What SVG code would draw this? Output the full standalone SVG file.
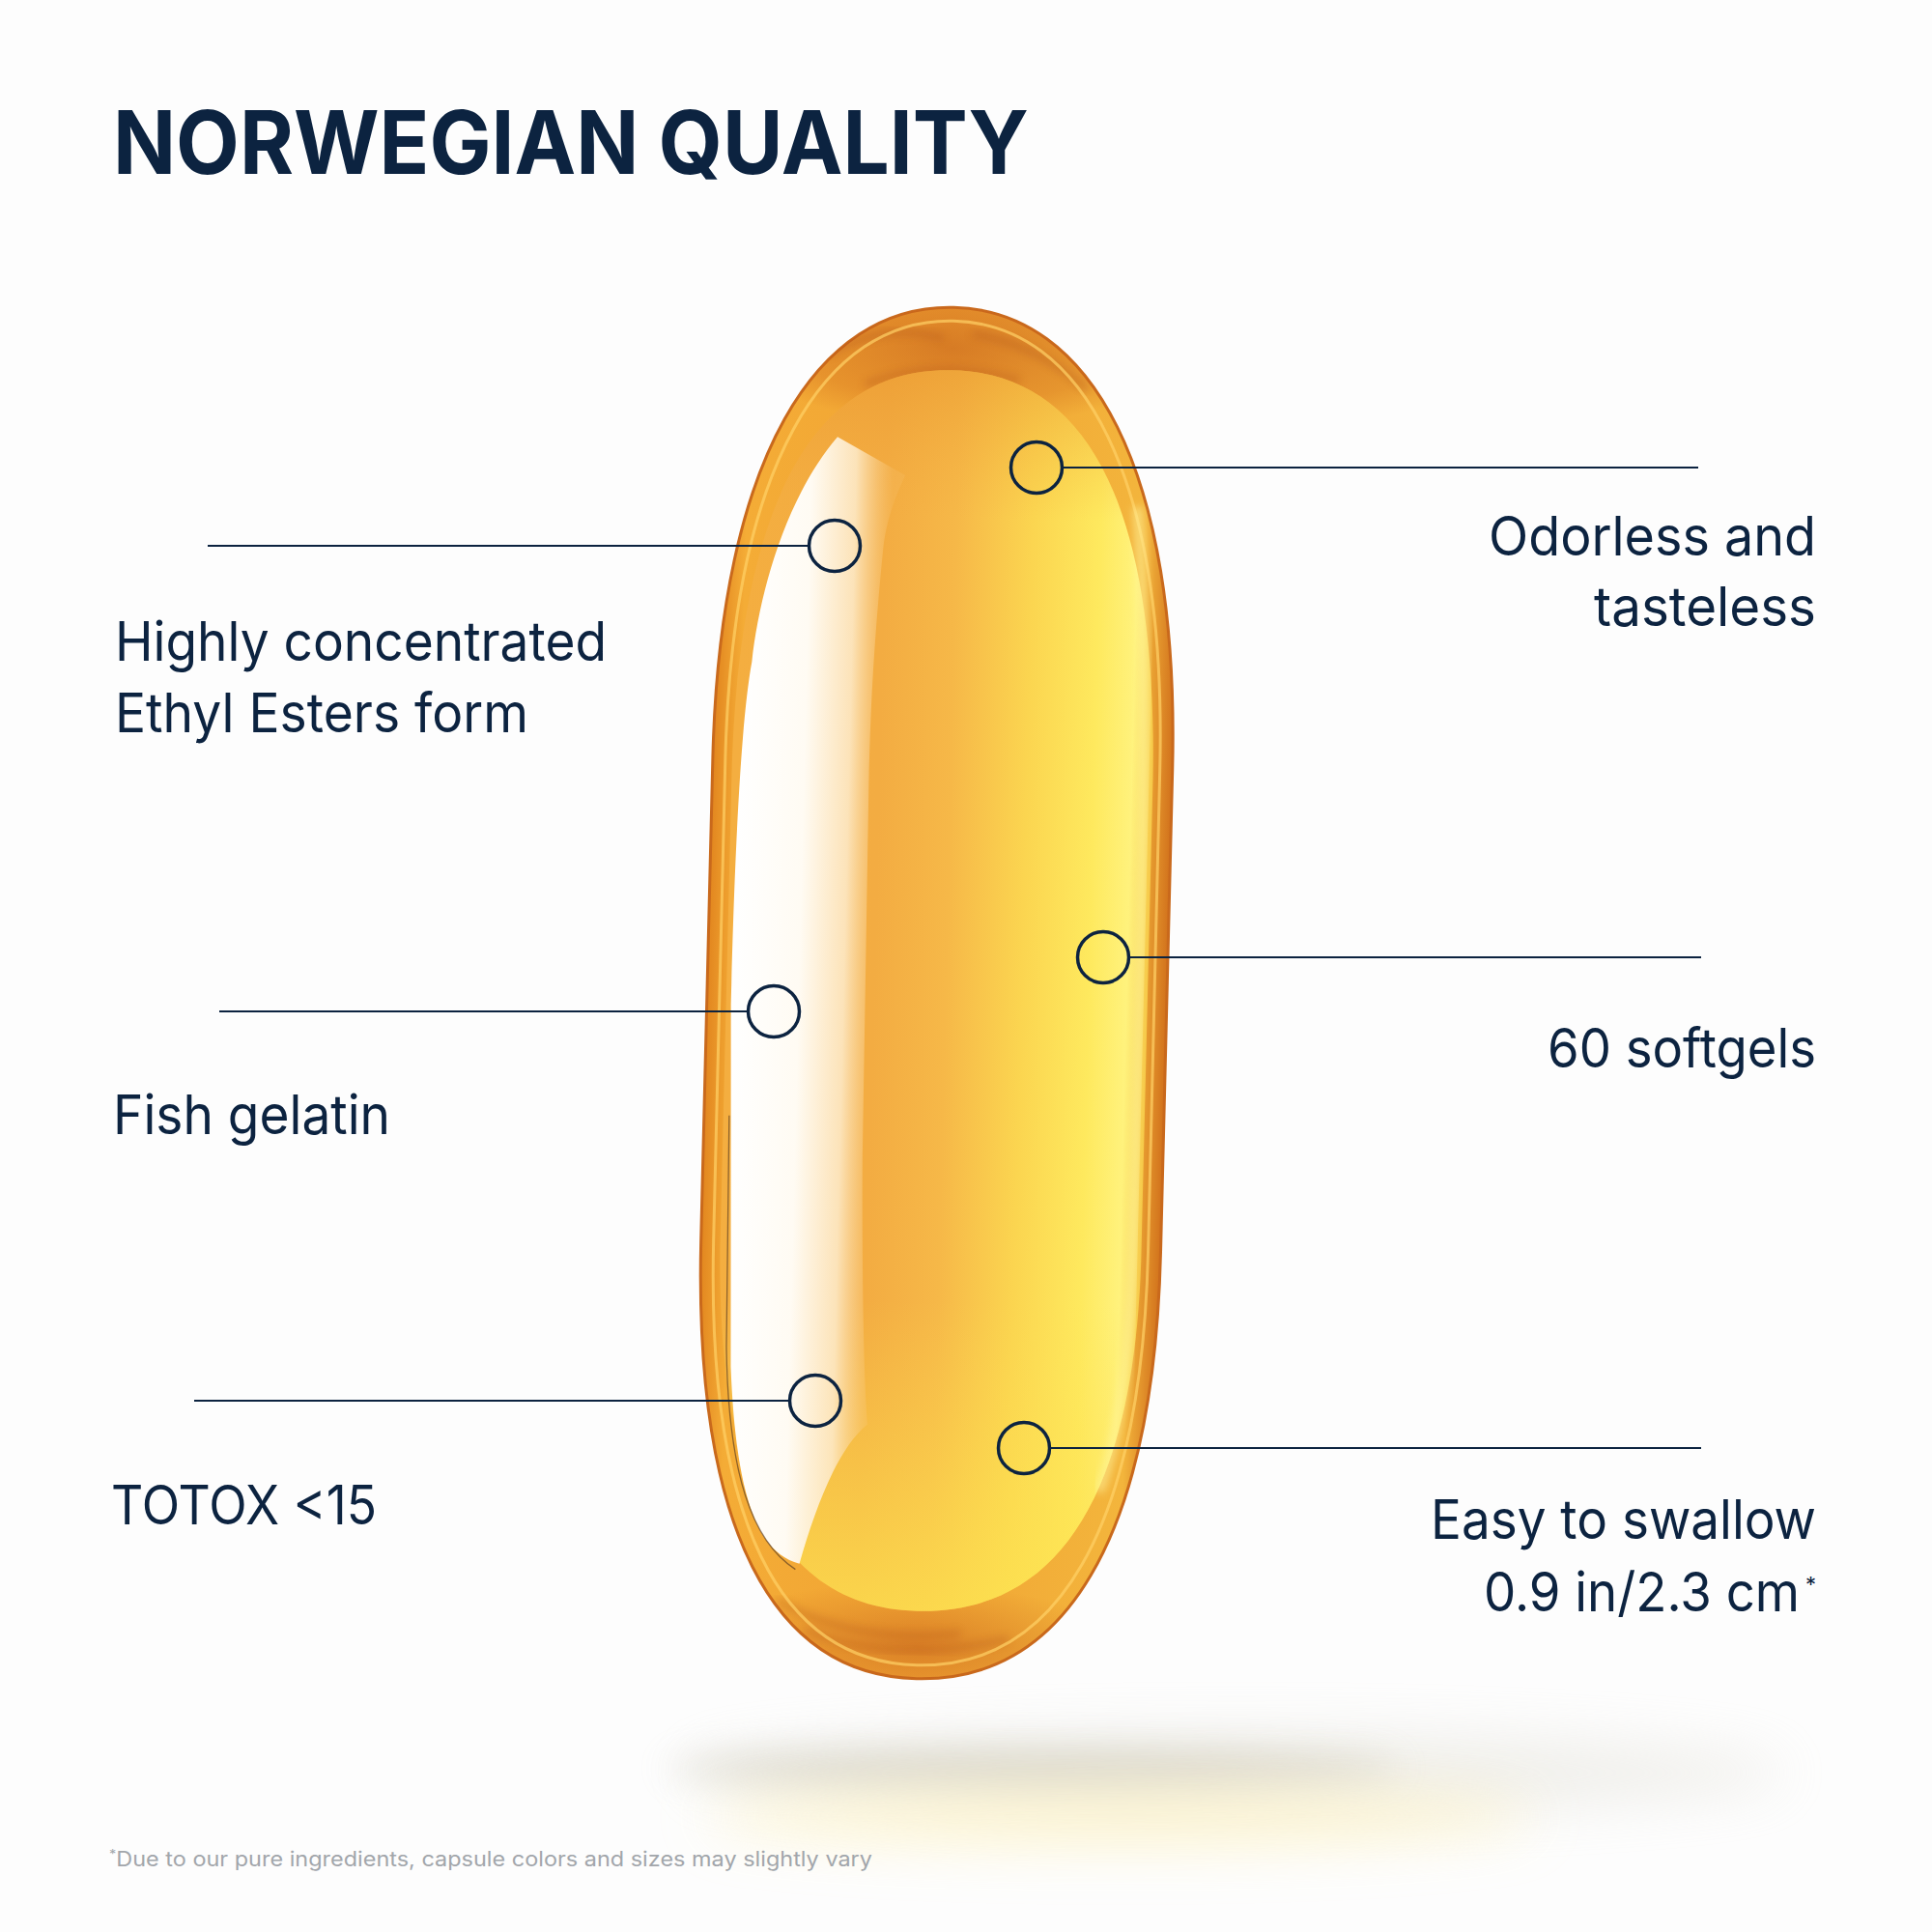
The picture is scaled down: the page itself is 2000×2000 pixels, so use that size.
<svg xmlns="http://www.w3.org/2000/svg" width="2000" height="2000" viewBox="0 0 2000 2000">
<style>
.title{font-family:Inter,"Liberation Sans",sans-serif;font-weight:700;font-size:91px;fill:#0c2340}
.lbl{font-family:Inter,"Liberation Sans",sans-serif;font-weight:400;font-size:56px;fill:#0c2340}
.foot{font-family:Inter,"Liberation Sans",sans-serif;font-weight:400;font-size:21px;fill:#a2a6ab}
.ln{stroke:#0c2340;stroke-width:2;fill:none}
.dot{stroke:#0c2340;stroke-width:3.5;fill:none}
</style>
<defs>
<linearGradient id="rimGrad" gradientUnits="userSpaceOnUse" x1="732" y1="0" x2="1208" y2="0">
<stop offset="0" stop-color="#e2861f"/>
<stop offset="0.06" stop-color="#f4ac36"/>
<stop offset="0.5" stop-color="#f1a434"/>
<stop offset="0.93" stop-color="#f3b53c"/>
<stop offset="1" stop-color="#d2721c"/>
</linearGradient>
<linearGradient id="bodyGrad" gradientUnits="userSpaceOnUse" x1="752" y1="0" x2="1188" y2="0">
<stop offset="0" stop-color="#f4ae40"/>
<stop offset="0.35" stop-color="#f3ac42"/>
<stop offset="0.52" stop-color="#f6b848"/>
<stop offset="0.7" stop-color="#fbd550"/>
<stop offset="0.86" stop-color="#fee95e"/>
<stop offset="0.95" stop-color="#fff27c"/>
<stop offset="1" stop-color="#f6c848"/>
</linearGradient>
<linearGradient id="bodyV" gradientUnits="userSpaceOnUse" x1="0" y1="383" x2="0" y2="1668">
<stop offset="0" stop-color="#e9962e" stop-opacity="0.55"/>
<stop offset="0.12" stop-color="#f2a83c" stop-opacity="0"/>
<stop offset="0.75" stop-color="#fde050" stop-opacity="0"/>
<stop offset="1" stop-color="#fde34f" stop-opacity="0.75"/>
</linearGradient>
<linearGradient id="hiGrad" gradientUnits="userSpaceOnUse" x1="757" y1="0" x2="912" y2="0">
<stop offset="0" stop-color="#ffffff" stop-opacity="1"/>
<stop offset="0.45" stop-color="#fffbf3" stop-opacity="1"/>
<stop offset="0.75" stop-color="#fde9c6" stop-opacity="0.9"/>
<stop offset="1" stop-color="#f8c676" stop-opacity="0.2"/>
</linearGradient>
<radialGradient id="capTop" gradientUnits="userSpaceOnUse" cx="970" cy="360" r="230" gradientTransform="translate(0 360) scale(1 0.35) translate(0 -360)">
<stop offset="0" stop-color="#c15a18" stop-opacity="0.55"/>
<stop offset="0.7" stop-color="#d06a1c" stop-opacity="0.35"/>
<stop offset="1" stop-color="#d06a1c" stop-opacity="0"/>
</radialGradient>
<radialGradient id="capBot" gradientUnits="userSpaceOnUse" cx="965" cy="1705" r="220" gradientTransform="translate(0 1705) scale(1 0.3) translate(0 -1705)">
<stop offset="0" stop-color="#c8641a" stop-opacity="0.55"/>
<stop offset="1" stop-color="#c8641a" stop-opacity="0"/>
</radialGradient>
<filter id="blur18" x="-50%" y="-200%" width="200%" height="500%"><feGaussianBlur stdDeviation="18"/></filter>
<filter id="blur28" x="-50%" y="-200%" width="200%" height="500%"><feGaussianBlur stdDeviation="28"/></filter>
<filter id="blur4"><feGaussianBlur stdDeviation="4"/></filter>
<clipPath id="outerClip"><path d="M970,318 C1112,318 1208,480 1208,790 L1208,1290 C1208,1590 1118,1738 966,1738 C818,1738 732,1590 732,1290 L732,790 C732,480 828,318 970,318 Z"/></clipPath>
</defs>
<rect width="2000" height="2000" fill="#fdfdfd"/>

<g id="shadow">
<ellipse cx="1280" cy="1835" rx="570" ry="40" fill="#dcd9cf" opacity="0.4" filter="url(#blur28)"/>
<ellipse cx="1070" cy="1830" rx="380" ry="20" fill="#bdb8a5" opacity="0.42" filter="url(#blur18)"/>
<ellipse cx="1160" cy="1880" rx="430" ry="30" fill="#fff0b0" opacity="0.55" filter="url(#blur28)"/>
</g>

<g id="capsule" transform="rotate(1.4 970 1028)">
<path d="M970,318 C1112,318 1208,480 1208,790 L1208,1290 C1208,1590 1118,1738 966,1738 C818,1738 732,1590 732,1290 L732,790 C732,480 828,318 970,318 Z" fill="url(#rimGrad)" stroke="#c9691c" stroke-width="3"/>
<g clip-path="url(#outerClip)">
<rect x="700" y="300" width="540" height="140" fill="url(#capTop)"/>
<rect x="700" y="1640" width="540" height="120" fill="url(#capBot)"/>
<path d="M840,370 C880,345 920,340 960,350 M990,345 C1030,350 1070,365 1110,400 M880,400 C930,380 980,378 1040,392" stroke="#a9481a" stroke-width="6" fill="none" opacity="0.35" filter="url(#blur4)"/>
<path d="M850,1690 C900,1712 980,1715 1060,1695 M820,1660 C870,1690 940,1700 1010,1690" stroke="#b0501a" stroke-width="6" fill="none" opacity="0.35" filter="url(#blur4)"/>
</g>
<path d="M970,332 C1104,332 1195,488 1195,792 L1195,1290 C1195,1580 1110,1724 966,1724 C824,1724 745,1580 745,1290 L745,792 C745,488 836,332 970,332 Z" fill="none" stroke="#ffd266" stroke-width="3" opacity="0.7"/>
<path d="M970,383 C1100,383 1186,500 1188,800 L1188,1300 C1186,1560 1100,1668 965,1668 C835,1668 756,1560 752,1300 L752,800 C754,500 840,383 970,383 Z" fill="url(#bodyGrad)"/>
<path d="M970,383 C1100,383 1186,500 1188,800 L1188,1300 C1186,1560 1100,1668 965,1668 C835,1668 756,1560 752,1300 L752,800 C754,500 840,383 970,383 Z" fill="url(#bodyV)"/>
<path d="M1165,520 C1180,650 1182,900 1180,1300 C1178,1420 1165,1500 1150,1540" stroke="#fff7a0" stroke-width="10" fill="none" opacity="0.6" filter="url(#blur4)"/>
<path d="M853,455 L924,493 C912,520 905,545 903,570 C897,650 894,720 894,800 L897,1200 C900,1350 905,1440 909,1476 C880,1500 858,1560 842,1622 C800,1612 775,1560 766,1420 L757,1045 C757,850 762,740 770,690 C776,620 800,520 853,455 Z" fill="url(#hiGrad)"/>
<path d="M758,1160 L761,1400 C766,1530 792,1600 838,1628" stroke="#4a3020" stroke-width="1.3" fill="none" opacity="0.6"/>
</g>

<g id="connectors">
<line class="ln" x1="215" y1="565" x2="837" y2="565"/>
<line class="ln" x1="227" y1="1047" x2="774" y2="1047"/>
<line class="ln" x1="201" y1="1450" x2="817" y2="1450"/>
<line class="ln" x1="1100" y1="484" x2="1758" y2="484"/>
<line class="ln" x1="1168" y1="991" x2="1761" y2="991"/>
<line class="ln" x1="1086" y1="1499" x2="1761" y2="1499"/>
</g>

<g id="node-title"><text class="title" x="117" y="180" textLength="948" lengthAdjust="spacingAndGlyphs">NORWEGIAN QUALITY</text></g>

<g id="node-ethyl">
<circle class="dot" cx="864" cy="565" r="26.5"/>
<text class="lbl" x="119" y="684" textLength="509" lengthAdjust="spacingAndGlyphs">Highly concentrated</text>
<text class="lbl" x="119" y="758" textLength="428" lengthAdjust="spacingAndGlyphs">Ethyl Esters form</text>
</g>
<g id="node-gelatin">
<circle class="dot" cx="801" cy="1047" r="26.5"/>
<text class="lbl" x="117" y="1174" textLength="287" lengthAdjust="spacingAndGlyphs">Fish gelatin</text>
</g>
<g id="node-totox">
<circle class="dot" cx="844" cy="1450" r="26.5"/>
<text class="lbl" x="115" y="1578" textLength="275" lengthAdjust="spacingAndGlyphs">TOTOX &lt;15</text>
</g>
<g id="node-odorless">
<circle class="dot" cx="1073" cy="484" r="26.5"/>
<text class="lbl" x="1541" y="575" textLength="339" lengthAdjust="spacingAndGlyphs">Odorless and</text>
<text class="lbl" x="1650" y="648" textLength="230" lengthAdjust="spacingAndGlyphs">tasteless</text>
</g>
<g id="node-softgels">
<circle class="dot" cx="1142" cy="991" r="26.5"/>
<text class="lbl" x="1602" y="1105" textLength="278" lengthAdjust="spacingAndGlyphs">60 softgels</text>
</g>
<g id="node-swallow">
<circle class="dot" cx="1060" cy="1499" r="26.5"/>
<text class="lbl" x="1481" y="1593" textLength="399" lengthAdjust="spacingAndGlyphs">Easy to swallow</text>
<text class="lbl" x="1536" y="1668"><tspan textLength="327" lengthAdjust="spacingAndGlyphs">0.9 in/2.3 cm</tspan><tspan x="1869" dy="-20" font-size="22">*</tspan></text>
</g>
<g id="footnote">
<text class="foot" x="113" y="1932" textLength="790" lengthAdjust="spacingAndGlyphs"><tspan font-size="13" dy="-8">*</tspan><tspan dy="8">Due to our pure ingredients, capsule colors and sizes may slightly vary</tspan></text>
</g>
</svg>
